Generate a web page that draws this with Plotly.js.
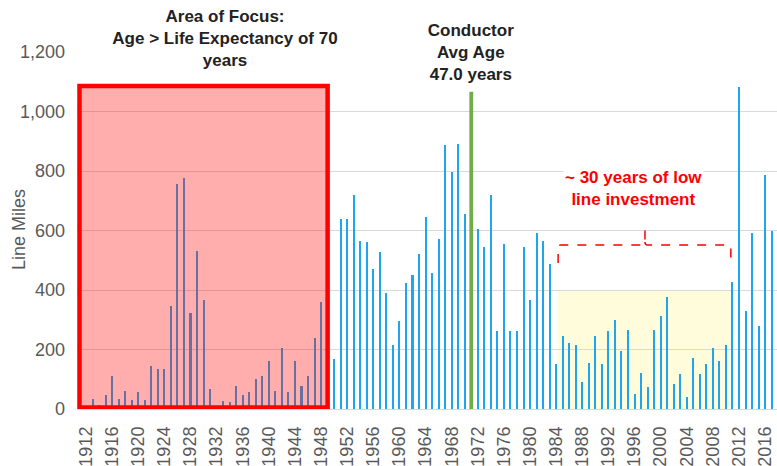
<!DOCTYPE html>
<html>
<head>
<meta charset="utf-8">
<script src="https://cdn.plot.ly/plotly-3.0.1.min.js"></script>
<style>html,body{margin:0;padding:0;background:#fff;}#chart{width:777px;height:466px;}</style>
</head>
<body>
<div id="chart"></div>
<script>
// Installation year of line (categories)
var years = [1912,1913,1914,1915,1916,1917,1918,1919,1920,1921,1922,1923,1924,1925,1926,1927,1928,1929,1930,1931,
  1932,1933,1934,1935,1936,1937,1938,1939,1940,1941,1942,1943,1944,1945,1946,1947,1948,1949,1950,1951,
  1952,1953,1954,1955,1956,1957,1958,1959,1960,1961,1962,1963,1964,1965,1966,1967,1968,1969,1970,1971,
  1972,1973,1974,1975,1976,1977,1978,1979,1980,1981,1982,1983,1984,1985,1986,1987,1988,1989,1990,1991,
  1992,1993,1994,1995,1996,1997,1998,1999,2000,2001,2002,2003,2004,2005,2006,2007,2008,2009,2010,2011,
  2012,2013,2014,2015,2016,2017];
// Line miles installed per year
var lineMiles = [5,34,13,46,112,34,62,29,56,29,144,134,134,345,758,776,322,532,366,67,
  6,28,24,78,46,56,101,112,161,62,206,56,161,78,112,238,360,0,167,638,
  638,720,565,560,471,527,389,216,296,422,450,521,644,456,571,887,798,892,654,0,
  604,543,720,261,554,261,261,543,366,593,565,488,150,244,222,216,90,156,244,150,
  261,300,195,267,50,122,73,267,311,377,84,118,39,172,118,150,206,161,216,428,
  1081,328,593,278,786,599];
var xTickYears = [1912,1916,1920,1924,1928,1932,1936,1940,1944,1948,1952,1956,1960,1964,1968,1972,1976,1980,1984,1988,1992,1996,2000,2004,2008,2012,2016];
var xTickText = ['1912','1916','1920','1924','1928','1932','1936','1940','1944','1948','1952','1956','1960','1964','1968','1972','1976','1980','1984','1988','1992','1996','2000','2004','2008','2012','2016'];
var yTickVals = [0,200,400,600,800,1000,1200];
var yTickText = ['0','200','400','600','800','1,000','1,200'];

// Highlight regions and markers
var focusStart = 1911, focusEnd = 1949, focusTop = 1086;
var lowStart = 1984.17, lowEnd = 2010.72, lowTop = 400;
var avgAgeYear = 1971, avgAgeTop = 1066;
var braceY = 551, braceEndY = 491, braceTipY = 608, braceMid = 1997.6, braceL = 1984.3, braceR = 2010.75;

var FONT = '"Liberation Sans", Arial, sans-serif';
var BAR_BLUE = '#1EA5EE';

var trace = {
  type: 'bar',
  x: years,
  y: lineMiles,
  width: 0.31,
  marker: {color: BAR_BLUE, line: {width: 0, color: BAR_BLUE}},
  hoverinfo: 'x+y'
};

var bp = 'M ' + braceL + ',' + braceEndY +
  ' L ' + braceL + ',' + (braceY - 8) +
  ' Q ' + braceL + ',' + braceY + ' ' + (braceL + 0.4) + ',' + braceY +
  ' L ' + (braceMid - 0.4) + ',' + braceY +
  ' Q ' + braceMid + ',' + braceY + ' ' + braceMid + ',' + (braceY + 10) +
  ' L ' + braceMid + ',' + braceTipY +
  ' M ' + braceMid + ',' + (braceY + 10) +
  ' Q ' + braceMid + ',' + braceY + ' ' + (braceMid + 0.4) + ',' + braceY +
  ' L ' + (braceR - 0.4) + ',' + braceY +
  ' Q ' + braceR + ',' + braceY + ' ' + braceR + ',' + (braceY - 8) +
  ' L ' + braceR + ',' + braceEndY;

var layout = {
  width: 777, height: 466,
  margin: {l: 77, r: 0, t: 52, b: 57, pad: 0},
  paper_bgcolor: '#ffffff',
  plot_bgcolor: '#ffffff',
  showlegend: false,
  font: {family: FONT, size: 18, color: '#595959'},
  bargap: 0,
  xaxis: {
    range: [1910.62, 2017.82],
    tickmode: 'array', tickvals: xTickYears, ticktext: xTickText,
    tickangle: -90,
    tickfont: {family: FONT, size: 18, color: '#595959'},
    showgrid: false, zeroline: false, showline: false, ticks: '',
    ticklabelstandoff: 13
  },
  yaxis: {
    range: [0, 1200],
    tickmode: 'array', tickvals: yTickVals, ticktext: yTickText,
    tickfont: {family: FONT, size: 18, color: '#595959'},
    showgrid: true, gridcolor: '#D9D9D9', gridwidth: 1,
    zeroline: true, zerolinecolor: '#D9D9D9', zerolinewidth: 1,
    showline: false, ticks: '',
    ticklabelstandoff: 11
  },
  shapes: [
    {type: 'rect', xref: 'x', yref: 'y', x0: lowStart, x1: lowEnd, y0: -8, y1: lowTop,
      fillcolor: '#FFFCDC', line: {width: 0}, layer: 'below'},
    {type: 'rect', xref: 'x', yref: 'y', x0: focusStart, x1: focusEnd, y0: 5, y1: focusTop,
      fillcolor: 'rgba(255,0,0,0.32)', line: {color: '#FF0000', width: 4.5}, layer: 'above'},
    {type: 'line', xref: 'x', yref: 'y', x0: avgAgeYear, x1: avgAgeYear, y0: 0, y1: avgAgeTop,
      line: {color: '#70AD47', width: 3.8}, layer: 'above'},
    {type: 'path', xref: 'x', yref: 'y', path: bp,
      line: {color: '#FF0000', width: 1.5, dash: 'dash'}, layer: 'above'}
  ],
  annotations: [
    {xref: 'x', yref: 'paper', x: 1933.3, y: 1.0378, xanchor: 'center', yanchor: 'middle',
      text: 'Area of Focus:<br>Age &gt; Life Expectancy of 70<br>years', showarrow: false,
      align: 'center', width: 290, bgcolor: '#ffffff', borderpad: 2,
      font: {family: FONT, size: 17, color: '#222222', weight: 700}},
    {xref: 'x', yref: 'paper', x: 1971.0, y: 0.9972, xanchor: 'center', yanchor: 'middle',
      text: 'Conductor<br>Avg Age<br>47.0 years', showarrow: false,
      align: 'center', width: 128, bgcolor: '#ffffff', borderpad: 2,
      font: {family: FONT, size: 17, color: '#222222', weight: 700}},
    {xref: 'x', yref: 'y', x: 1995.9, y: 741, xanchor: 'center', yanchor: 'middle',
      text: '~ 30 years of low<br>line investment', showarrow: false,
      align: 'center', bgcolor: '#ffffff', borderpad: 1,
      font: {family: FONT, size: 17, color: '#FF0000', weight: 700}},
    {xref: 'paper', yref: 'paper', x: -0.0829, y: 0.504, xanchor: 'center', yanchor: 'middle',
      text: 'Line Miles', textangle: -90, showarrow: false,
      font: {family: FONT, size: 18, color: '#595959'}}
  ]
};

Plotly.newPlot('chart', [trace], layout, {displayModeBar: false, staticPlot: true});
</script>
</body>
</html>
